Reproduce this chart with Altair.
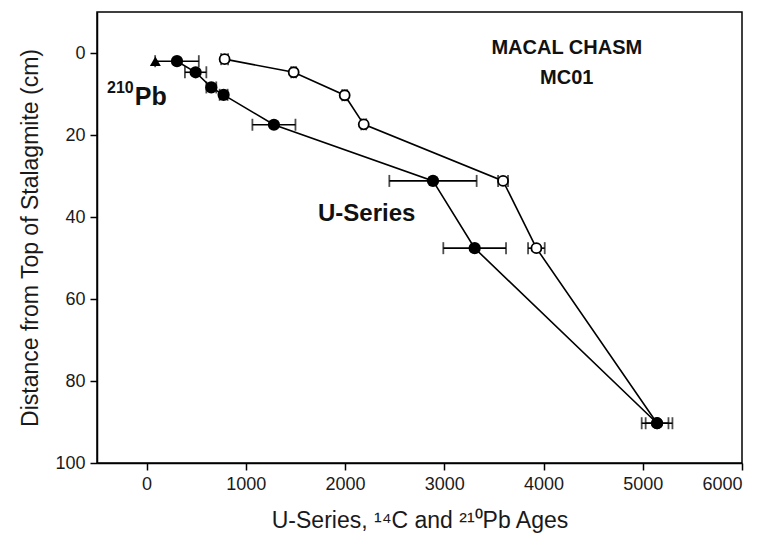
import altair as alt
import pandas as pd

# U-Series (filled circles)
u_age = [306, 494, 652, 776, 1283, 2886, 3306, 5144]
u_depth = [2.0, 4.7, 8.4, 10.2, 17.5, 31.2, 47.6, 90.3]
u_err = [220, 108, 50, 40, 217, 440, 316, 155]

# 14C (open circles)
c_age = [786, 1482, 1996, 2188, 3592, 3928, 5144]
c_depth = [1.5, 4.7, 10.3, 17.4, 31.2, 47.6, 90.3]
c_err = [35, 25, 25, 25, 50, 84, 115]

# 210Pb (triangle)
pb_age = [88]
pb_depth = [2.0]

x_ticks = [0, 1000, 2000, 3000, 4000, 5000, 6000]
y_ticks = [0, 20, 40, 60, 80, 100]

u = pd.DataFrame({"age": u_age, "depth": u_depth, "err": u_err, "series": "U-Series"})
c = pd.DataFrame({"age": c_age, "depth": c_depth, "err": c_err, "series": "14C"})
for d in (u, c):
    d["lo"] = d["age"] - d["err"]
    d["hi"] = d["age"] + d["err"]
pb = pd.DataFrame({"age": pb_age, "depth": pb_depth})

FONT = "Liberation Sans"

xs = alt.Scale(domain=[-500, 6000], nice=False, zero=False)
ys = alt.Scale(domain=[-10, 100], nice=False, zero=False, reverse=True)

X = alt.X("age:Q", scale=xs, axis=alt.Axis(
    values=x_ticks, format="d", title="U-Series, ¹⁴C and ²¹⁰Pb Ages", grid=False,
    titleFontSize=23))
Y = alt.Y("depth:Q", scale=ys, axis=alt.Axis(
    values=y_ticks, format="d", title="Distance from Top of Stalagmite (cm)", grid=False,
    titleFontSize=23))

def lines(df):
    return alt.Chart(df).mark_line(color="black", strokeWidth=1.6).encode(
        x=X, y=Y, order="depth:Q")

def errbars(df):
    r = alt.Chart(df).mark_rule(color="black", strokeWidth=1.6).encode(
        x=alt.X("lo:Q", scale=xs), x2="hi:Q", y=alt.Y("depth:Q", scale=ys))
    t1 = alt.Chart(df).mark_tick(color="black", orient="vertical", size=12, thickness=1.8).encode(
        x=alt.X("lo:Q", scale=xs), y=alt.Y("depth:Q", scale=ys))
    t2 = alt.Chart(df).mark_tick(color="black", orient="vertical", size=12, thickness=1.8).encode(
        x=alt.X("hi:Q", scale=xs), y=alt.Y("depth:Q", scale=ys))
    return r + t1 + t2

open_pts = alt.Chart(c).mark_point(shape="circle", filled=True, fill="white",
                                   stroke="black", strokeWidth=1.8, size=100, opacity=1).encode(x=X, y=Y)
filled_pts = alt.Chart(u).mark_point(shape="circle", filled=True, color="black",
                                     size=150, opacity=1).encode(x=X, y=Y)
tri = alt.Chart(pb).mark_point(shape="triangle-up", filled=True, color="black",
                               size=120, opacity=1).encode(x=X, y=Y)

title_df = pd.DataFrame({
    "age": [4234, 4234],
    "depth": [-1.3, 6.0],
    "label": ["MACAL CHASM", "MC01"],
})
useries_df = pd.DataFrame({"age": [2218], "depth": [39.3], "label": ["U-Series"]})
pb_lab = pd.DataFrame({"age": [-120], "depth": [10.8], "label": ["Pb"]})
sup = pd.DataFrame({"age": [-130], "depth": [8.6], "label": ["210"]})

text_title = alt.Chart(title_df).mark_text(font=FONT, fontWeight="bold", fontSize=20,
                                           color="#111", align="center", baseline="middle").encode(
    x=alt.X("age:Q", scale=xs), y=alt.Y("depth:Q", scale=ys), text="label:N")
text_us = alt.Chart(useries_df).mark_text(font=FONT, fontWeight="bold", fontSize=24,
                                          color="#111", align="center", baseline="middle").encode(
    x=alt.X("age:Q", scale=xs), y=alt.Y("depth:Q", scale=ys), text="label:N")
text_pb = alt.Chart(pb_lab).mark_text(font=FONT, fontWeight="bold", fontSize=25,
                                      color="#111", align="left", baseline="middle").encode(
    x=alt.X("age:Q", scale=xs), y=alt.Y("depth:Q", scale=ys), text="label:N")
text_sup = alt.Chart(sup).mark_text(font=FONT, fontWeight="bold", fontSize=16,
                                    color="#111", align="right", baseline="middle").encode(
    x=alt.X("age:Q", scale=xs), y=alt.Y("depth:Q", scale=ys), text="label:N")

chart = alt.layer(
    lines(u), lines(c), errbars(c), errbars(u), open_pts, filled_pts, tri,
    text_title, text_us, text_pb, text_sup
).properties(
    width=645, height=451,
    autosize=alt.AutoSizeParams(type="none"),
    padding={"left": 97, "top": 12, "right": 22, "bottom": 77},
).configure_view(
    stroke="black", strokeWidth=1.5
).configure_axis(
    domainColor="black", domainWidth=1.5, tickColor="black", tickWidth=1.5, tickSize=7,
    labelFont=FONT, labelFontSize=18, labelColor="#1a1a1a", labelPadding=5,
    titleFont=FONT, titleFontWeight="normal", titleColor="#1a1a1a",
).configure_axisX(titlePadding=16).configure_axisY(titlePadding=12)

chart.save("out.html", embed_options={"renderer": "svg", "actions": False})
